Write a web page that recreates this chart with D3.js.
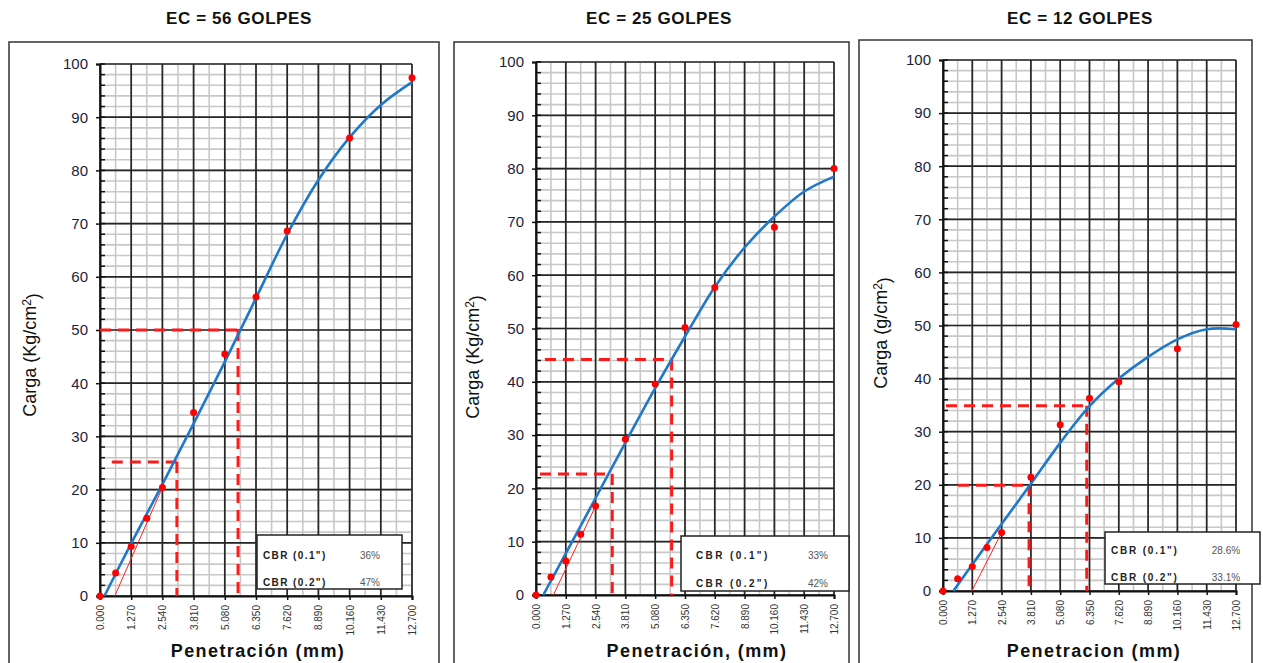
<!DOCTYPE html>
<html>
<head>
<meta charset="utf-8">
<script src="https://cdn.jsdelivr.net/npm/d3@7"></script>
<style>
  body { margin: 0; background: #fff; }
  svg { font-family: Arial, "Liberation Sans", sans-serif; }
</style>
</head>
<body>
<div id="plot"></div>
<script>
// Penetration readings (mm) and measured loads for each compaction energy.
var penetration = [0, 0.635, 1.27, 1.905, 2.54, 3.81, 5.08, 6.35, 7.62, 10.16, 12.7];
var load56 = [0, 4.3, 9.3, 14.6, 20.4, 34.5, 45.5, 56.2, 68.6, 86.1, 97.4];
var load25 = [0, 3.4, 6.4, 11.4, 16.7, 29.2, 39.6, 50.2, 57.7, 69.0, 80.0];
var load12 = [0, 2.3, 4.6, 8.2, 11.0, 21.4, 31.3, 36.3, 39.4, 45.6, 50.2];

// Fitted (blue) curve.
var fitStart = [0.18, 0.31, 0.45];
var fitPen = [1.27, 2.54, 3.81, 5.08, 6.35, 7.62, 8.89, 10.16, 11.43, 12.7];
var fit56 = [9.9, 21.0, 32.4, 44.0, 56.0, 68.0, 78.2, 86.2, 92.3, 96.6];
var fit25 = [7.8, 18.2, 28.6, 38.8, 48.5, 57.8, 65.2, 71.0, 75.7, 78.5];
var fit12 = [5.0, 12.6, 20.2, 27.9, 34.8, 40.0, 44.1, 47.4, 49.3, 49.3];

// Thin red correction line: start on x axis, end point.
var corrStart = [0.6, 0.74, 1.25];
var corrEnd = [[2.54, 20.4], [2.54, 16.7], [2.54, 11.0]];

// Dashed CBR reading lines (0.1" and 0.2").
var cbrPen = [[3.13, 5.62], [3.25, 5.78], [3.73, 6.23]];
var cbrLoad = [[25.2, 50.0], [22.7, 44.2], [19.9, 34.9]];
var cbrFrom = [[0.48, 0], [0.17, 0.38], [0.65, 0.13]];

var titles = ["EC = 56 GOLPES", "EC = 25 GOLPES", "EC = 12 GOLPES"];
var yUnits = ["Kg", "Kg", "g"];
var xTitles = ["Penetración (mm)", "Penetración, (mm)", "Penetracion (mm)"];
var cbrNames = ['CBR (0.1")', 'CBR (0.2")'];
var cbr01 = ["36%", "33%", "28.6%"];
var cbr02 = ["47%", "42%", "33.1%"];
var xTicks = [0, 1.27, 2.54, 3.81, 5.08, 6.35, 7.62, 8.89, 10.16, 11.43, 12.7];
var yTicks = [0, 10, 20, 30, 40, 50, 60, 70, 80, 90, 100];

var loads = [load56, load25, load12];
var fits = [fit56, fit25, fit12];

// Panel layout (pixels).
var layout = [
  {left: 100, right: 412, top: 64, bottom: 596, box: [9, 42, 439], title: 239, ytx: 30, yty: 355, xt: 258, cbr: [257, 535, 402, 589], c1: 263, c2: 370, r1: 555, r2: 582, ls: 1.4},
  {left: 536, right: 834, top: 62, bottom: 595, box: [454, 42, 849], title: 659, ytx: 473, yty: 357, xt: 697, cbr: [681, 536, 849, 591], c1: 696, c2: 818, r1: 555, r2: 583, ls: 2.4},
  {left: 943, right: 1236, top: 60, bottom: 591, box: [859, 40, 1252], title: 1080, ytx: 881, yty: 333, xt: 1094, cbr: [1105, 532, 1260, 584], c1: 1111, c2: 1226, r1: 550, r2: 577, ls: 1.8}
];

var svg = d3.select("#plot").append("svg")
  .attr("width", 1263)
  .attr("height", 663);

layout.forEach(function(L, p) {
  var x = d3.scaleLinear().domain([0, 12.7]).range([L.left, L.right]);
  var y = d3.scaleLinear().domain([0, 100]).range([L.bottom, L.top]);
  var g = svg.append("g");

  // outer frame
  g.append("rect")
    .attr("x", L.box[0]).attr("y", L.box[1])
    .attr("width", L.box[2] - L.box[0]).attr("height", 700)
    .attr("fill", "#fff").attr("stroke", "#333").attr("stroke-width", 1.5);

  // title
  svg.append("text")
    .attr("x", L.title).attr("y", 24)
    .attr("text-anchor", "middle")
    .style("font-size", "17px").style("font-weight", "bold")
    .style("letter-spacing", "0.6px")
    .attr("fill", "#111")
    .text(titles[p]);

  // minor grid
  var minorX = d3.range(0, 12.71, 0.635);
  var minorY = d3.range(0, 101, 2);
  g.append("g").selectAll("line").data(minorX).enter().append("line")
    .attr("x1", d => x(d)).attr("x2", d => x(d))
    .attr("y1", y(0)).attr("y2", y(100))
    .attr("stroke", "#c8c8c8").attr("stroke-width", 1.6);
  g.append("g").selectAll("line").data(minorY).enter().append("line")
    .attr("x1", x(0)).attr("x2", x(12.7))
    .attr("y1", d => y(d)).attr("y2", d => y(d))
    .attr("stroke", "#c8c8c8").attr("stroke-width", 1.6);

  // major grid
  g.append("g").selectAll("line").data(xTicks).enter().append("line")
    .attr("x1", d => x(d)).attr("x2", d => x(d))
    .attr("y1", y(0)).attr("y2", y(100))
    .attr("stroke", "#262626").attr("stroke-width", 1.7);
  g.append("g").selectAll("line").data(yTicks).enter().append("line")
    .attr("x1", x(0)).attr("x2", x(12.7))
    .attr("y1", d => y(d)).attr("y2", d => y(d))
    .attr("stroke", "#262626").attr("stroke-width", 1.7);

  // y axis with inside minor ticks
  g.append("g").selectAll("line").data(minorY).enter().append("line")
    .attr("x1", x(0)).attr("x2", x(0) + 5)
    .attr("y1", d => y(d)).attr("y2", d => y(d))
    .attr("stroke", "#111").attr("stroke-width", 1.5);
  var yAxis = g.append("g")
    .attr("transform", "translate(" + x(0) + ",0)")
    .call(d3.axisLeft(y).tickValues(yTicks).tickSize(4).tickPadding(8));
  yAxis.select(".domain").attr("stroke", "#111").attr("stroke-width", 2);
  yAxis.selectAll("line").attr("stroke", "#111").attr("stroke-width", 1.5);
  yAxis.selectAll("text").style("font-size", "15px").attr("fill", "#1e1e3a")
    .style("font-family", "Arial, 'Liberation Sans', sans-serif");

  // x axis
  var xAxis = g.append("g")
    .attr("transform", "translate(0," + y(0) + ")")
    .call(d3.axisBottom(x).tickValues(xTicks).tickSize(4).tickFormat(d3.format(".3f")));
  xAxis.select(".domain").attr("stroke", "#111").attr("stroke-width", 2);
  xAxis.selectAll("line").attr("stroke", "#111").attr("stroke-width", 1.5);
  xAxis.selectAll("text")
    .attr("transform", "rotate(-90)")
    .attr("x", -9).attr("y", 0).attr("dy", "0.35em")
    .attr("text-anchor", "end")
    .style("font-size", "10px").attr("fill", "#333")
    .style("font-family", "Arial, 'Liberation Sans', sans-serif");

  // y title
  var yt = g.append("text")
    .attr("transform", "translate(" + L.ytx + "," + L.yty + ") rotate(-90)")
    .attr("text-anchor", "middle").attr("dy", "0.35em")
    .style("font-size", "18px").attr("fill", "#111");
  yt.append("tspan").text("Carga (" + yUnits[p] + "/cm");
  yt.append("tspan").attr("dy", "-0.45em").style("font-size", "12px").text("2");
  yt.append("tspan").attr("dy", "0.45em").text(")");

  // x title
  g.append("text")
    .attr("x", L.xt).attr("y", 657)
    .attr("text-anchor", "middle")
    .style("font-size", "18px").style("font-weight", "bold")
    .style("letter-spacing", "1.4px").attr("fill", "#111")
    .text(xTitles[p]);

  // dashed CBR lines
  var dash = g.append("g")
    .attr("stroke", "#ff1a1a").attr("stroke-width", 3)
    .attr("stroke-dasharray", "11,7").attr("fill", "none");
  for (var k = 0; k < 2; k++) {
    dash.append("line")
      .attr("x1", x(cbrFrom[p][k])).attr("x2", x(cbrPen[p][k]))
      .attr("y1", y(cbrLoad[p][k])).attr("y2", y(cbrLoad[p][k]));
    dash.append("line")
      .attr("x1", x(cbrPen[p][k])).attr("x2", x(cbrPen[p][k]))
      .attr("y1", y(cbrLoad[p][k])).attr("y2", y(0));
  }

  // correction line
  g.append("line")
    .attr("x1", x(corrStart[p])).attr("y1", y(0))
    .attr("x2", x(corrEnd[p][0])).attr("y2", y(corrEnd[p][1]))
    .attr("stroke", "#ff2020").attr("stroke-width", 1);

  // fitted curve
  var fitPts = [[fitStart[p], 0]].concat(fitPen.map(function(d, i) { return [d, fits[p][i]]; }));
  g.append("path")
    .datum(fitPts)
    .attr("fill", "none").attr("stroke", "#1f78c8").attr("stroke-width", 2.6)
    .attr("d", d3.line().x(d => x(d[0])).y(d => y(d[1])).curve(d3.curveCatmullRom.alpha(0.5)));

  // measured points
  g.append("g").selectAll("circle")
    .data(penetration.map(function(d, i) { return [d, loads[p][i]]; }))
    .enter().append("circle")
    .attr("cx", d => x(d[0])).attr("cy", d => y(d[1]))
    .attr("r", 3.5).attr("fill", "#ff0000");

  // CBR box
  g.append("rect")
    .attr("x", L.cbr[0]).attr("y", L.cbr[1])
    .attr("width", L.cbr[2] - L.cbr[0]).attr("height", L.cbr[3] - L.cbr[1])
    .attr("fill", "#fff").attr("stroke", "#222").attr("stroke-width", 1.5);
  [[cbrNames[0], cbr01[p], L.r1], [cbrNames[1], cbr02[p], L.r2]].forEach(function(row) {
    g.append("text")
      .attr("x", L.c1).attr("y", row[2]).attr("dy", "0.35em")
      .style("font-size", "10px").style("font-weight", "bold")
      .style("letter-spacing", L.ls + "px").attr("fill", "#222")
      .text(row[0]);
    g.append("text")
      .attr("x", L.c2).attr("y", row[2]).attr("dy", "0.35em")
      .attr("text-anchor", "middle")
      .style("font-size", "10px").attr("fill", "#555")
      .text(row[1]);
  });
});
</script>
</body>
</html>
